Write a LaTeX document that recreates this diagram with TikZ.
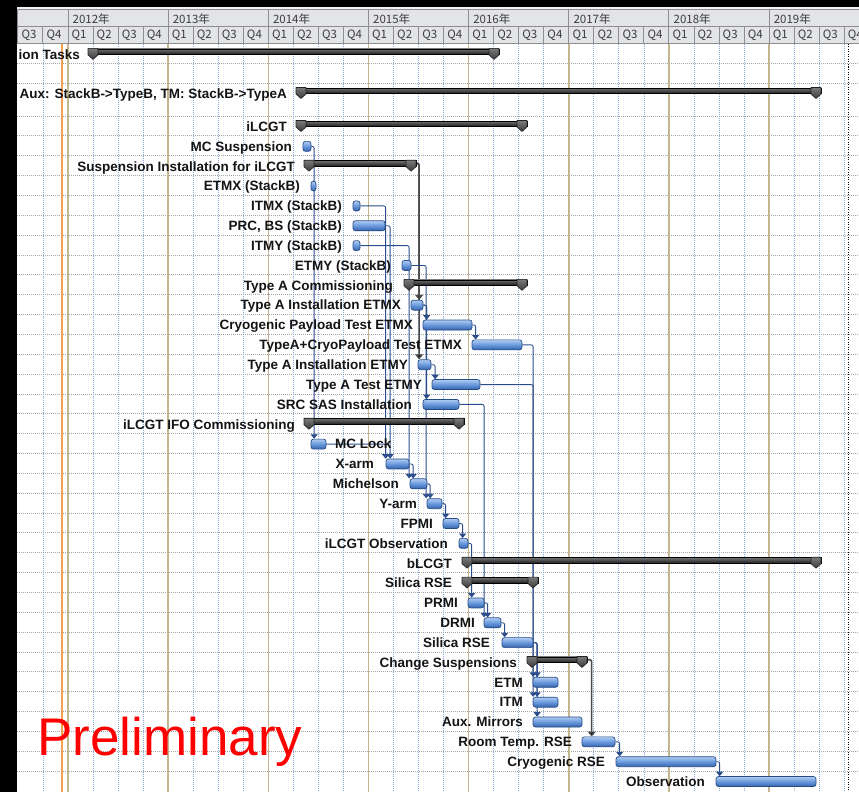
\documentclass[tikz,border=0pt]{standalone}
\usepackage{fontspec}
\setmainfont{Liberation Sans}
\newfontfamily\cjkfont{Noto Sans CJK JP}
\usetikzlibrary{arrows.meta,calc}
\definecolor{barlight}{HTML}{B0CCF2}
\definecolor{barmid}{HTML}{6898DC}
\definecolor{bardark}{HTML}{3563AC}
\definecolor{barborder}{HTML}{264C86}
\definecolor{sumlight}{HTML}{707070}
\definecolor{sumdark}{HTML}{1E1E1E}
\definecolor{caplight}{HTML}{7A7A7A}
\definecolor{capdark}{HTML}{3A3A3A}
\definecolor{capborder}{HTML}{222222}
\definecolor{lblcol}{HTML}{141414}
\definecolor{linkcol}{HTML}{2B4D8C}
\definecolor{slinkcol}{HTML}{4A4A4A}
\definecolor{rowcol}{HTML}{A4A4A4}
\definecolor{qcol}{HTML}{85A9DA}
\definecolor{ycol}{HTML}{C4B68E}
\definecolor{hdrcol}{HTML}{8E8E8E}
\definecolor{hdrbg}{HTML}{E2E4E8}
\definecolor{hdrtxtcol}{HTML}{3C3C3C}
\definecolor{todaycol}{HTML}{F5A04A}
\pgfdeclarelayer{bg}
\pgfdeclarelayer{links}
\pgfdeclarelayer{top}
\pgfsetlayers{bg,links,main,top}
\tikzset{
  taskbar/.style={draw=barborder, line width=0.7pt, rounded corners=2.5pt, top color=barlight, bottom color=bardark, middle color=barmid, inner sep=0pt, minimum height=10pt},
  sumbar/.style={draw=black, line width=0.6pt, top color=sumlight, bottom color=sumdark, inner sep=0pt, minimum height=5.5pt},
  sumcap/.style={draw=capborder, line width=0.6pt, top color=caplight, bottom color=capdark, line join=round},
  lbltxt/.style={font=\fontsize{13.5}{15}\selectfont\bfseries, text=lblcol, inner sep=0pt},
  link/.style={draw=linkcol, line width=0.9pt, rounded corners=2pt, -{Triangle[width=7pt,length=4.5pt]}},
  slink/.style={draw=slinkcol, line width=1.6pt, rounded corners=2pt, -{Triangle[width=8pt,length=5pt,fill=black]}},
  rowline/.style={draw=rowcol, line width=0.8pt, dash pattern=on 1pt off 1pt},
  qline/.style={draw=qcol, line width=0.8pt, dash pattern=on 1pt off 1pt},
  yline/.style={draw=ycol, line width=1.5pt},
  hdrline/.style={draw=hdrcol, line width=1pt},
  hdrtxt/.style={font=\cjkfont\fontsize{11.5}{13}\selectfont, text=hdrtxtcol, inner sep=0pt},
}
\newcommand\GTtask[4]{%
  \pgfmathsetmacro\gtw{#4-#3}\pgfmathsetmacro\gtx{(#3+#4)/2}\pgfmathsetmacro\gty{#2+0.5}%
  \node[taskbar, minimum width=\gtw pt] (#1) at (\gtx,\gty) {};%
}
\newcommand\GTsum[4]{%
  \pgfmathsetmacro\gtw{#4-#3}\pgfmathsetmacro\gtx{(#3+#4)/2}\pgfmathsetmacro\gty{#2-2.25}%
  \node[sumbar, minimum width=\gtw pt] (#1) at (\gtx,\gty) {};%
  \pgfmathsetmacro\gya{#2-5.5}\pgfmathsetmacro\gyb{#2+1}\pgfmathsetmacro\gyc{#2+5.5}%
  \pgfmathsetmacro\gxa{#3+10}\pgfmathsetmacro\gxm{#3+5}%
  \draw[sumcap] (#3,\gya) -- (\gxa,\gya) -- (\gxa,\gyb) -- (\gxm,\gyc) -- (#3,\gyb) -- cycle;%
  \pgfmathsetmacro\gxb{#4-10}\pgfmathsetmacro\gxn{#4-5}%
  \draw[sumcap] (\gxb,\gya) -- (#4,\gya) -- (#4,\gyb) -- (\gxn,\gyc) -- (\gxb,\gyb) -- cycle;%
}
\newcommand\GTlbl[4]{%
  \pgfmathsetmacro\gty{#3+5.3}%
  \node[lbltxt, anchor=base east] (#1) at (#2,\gty) {#4};%
}
\begin{document}
\begin{tikzpicture}[x=1pt,y=-1pt]
\useasboundingbox (0,0) rectangle (859,792);
\begin{pgfonlayer}{bg}
\fill[black] (0,0) rectangle (859,792);
\fill[white] (17,44) rectangle (859,792);
% header
\fill[hdrbg] (17,7) rectangle (859,44);
\fill[white!60!hdrbg] (17,7) rectangle (859,10);
\draw[hdrline] (17,10) -- (859,10);
\draw[hdrline] (17,27) -- (859,27);
\draw[hdrline] (17,43.5) -- (859,43.5);
\draw[hdrline] (17.5,10) -- (17.5,43.5);
\foreach \k in {0,...,7} {
  \pgfmathsetmacro\xx{68+100.16*\k}
  \pgfmathtruncatemacro\yr{2012+\k}
  \draw[hdrline] (\xx,10) -- (\xx,27);
  \node[hdrtxt, anchor=west] (yr\k) at (\xx+4.5,18.7) {\yr 年};
}
\foreach \q in {-2,...,31} {
  \pgfmathsetmacro\xx{68+25.04*\q}
  \pgfmathtruncatemacro\qn{mod(\q+8,4)+1}
  \draw[hdrline] (\xx,27) -- (\xx,43.5);
  \node[hdrtxt, anchor=west] (q\q) at (\xx+3.5,35.5) {Q\qn};
}
% grid
\foreach \yy in {63.8,83.7} \draw[rowline] (17,\yy) -- (859,\yy);
\foreach \k in {0,...,33} { \pgfmathsetmacro\yy{116+19.85*\k} \draw[rowline] (17,\yy) -- (859,\yy); }
\foreach \q in {-1,...,31} {
  \pgfmathsetmacro\xx{68+25.04*\q}
  \pgfmathtruncatemacro\m{mod(\q+8,4)}
  \ifnum\m=0 \draw[yline] (\xx,44) -- (\xx,792); \else \draw[qline] (\xx,44) -- (\xx,792); \fi
}
\draw[todaycol, line width=1.3pt] (62,44) -- (62,792);
\draw[black, line width=0.8pt, dash pattern=on 1pt off 1.5pt] (848,44) -- (848,792);
\node[font=\fontsize{53}{60}\selectfont, text=red, anchor=base west, inner sep=0pt] (prelim) at (37,755) {Preliminary};
\end{pgfonlayer}

% summary bars
\GTsum{common}{53.9}{88}{499}
\GTsum{auxsum}{93}{296}{821}
\GTsum{ilcgt}{126}{296}{527}
\GTsum{sii}{165.7}{304}{416}
\GTsum{tac}{284.8}{404}{527}
\GTsum{ifo}{423.75}{304}{464}
\GTsum{blcgt}{562.7}{462}{821}
\GTsum{srse}{582.55}{462}{538}
\GTsum{chs}{661.95}{527}{587}
% tasks
\GTtask{mcs}{145.85}{303}{311}
\GTtask{etmxb}{185.55}{311}{316}
\GTtask{itmxb}{205.4}{353}{360}
\GTtask{prcb}{225.25}{353}{385}
\GTtask{itmyb}{245.1}{353}{360}
\GTtask{etmyb}{264.95}{402}{411}
\GTtask{taie}{304.65}{411}{423}
\GTtask{cpt}{324.5}{423}{472}
\GTtask{tacpt}{344.35}{472}{522}
\GTtask{taiey}{364.2}{418}{431}
\GTtask{tate}{384.05}{432}{480}
\GTtask{src}{403.9}{423}{459}
\GTtask{mcl}{443.6}{311}{326}
\GTtask{xarm}{463.45}{386}{409}
\GTtask{mich}{483.3}{410}{427}
\GTtask{yarm}{503.15}{427}{442}
\GTtask{fpmi}{523}{443}{459}
\GTtask{obsa}{542.85}{459}{468}
\GTtask{prmi}{602.4}{468}{484}
\GTtask{drmi}{622.25}{484}{501}
\GTtask{srset}{642.1}{502}{533}
\GTtask{etm}{681.8}{533}{558}
\GTtask{itm}{701.65}{533}{558}
\GTtask{aux}{721.5}{533}{582}
\GTtask{rtrse}{741.35}{582}{615}
\GTtask{crse}{761.2}{616}{716}
\GTtask{obs}{781.05}{716}{816}

% labels
\GTlbl{lcommon}{80}{53.9}{ion Tasks}
\GTlbl{lauxsum}{287}{93}{Aux: StackB->TypeB, TM: StackB->TypeA}
\GTlbl{lilcgt}{287}{126}{iLCGT}
\GTlbl{lmcs}{292}{145.85}{MC Suspension}
\GTlbl{lsii}{295}{165.7}{Suspension Installation for iLCGT}
\GTlbl{letmxb}{300}{185.55}{ETMX (StackB)}
\GTlbl{litmxb}{342}{205.4}{ITMX (StackB)}
\GTlbl{lprcb}{342}{225.25}{PRC, BS (StackB)}
\GTlbl{litmyb}{342}{245.1}{ITMY (StackB)}
\GTlbl{letmyb}{391}{264.95}{ETMY (StackB)}
\GTlbl{ltac}{393}{284.8}{Type A Commissioning}
\GTlbl{ltaie}{401}{304.65}{Type A Installation ETMX}
\GTlbl{lcpt}{413}{324.5}{Cryogenic Payload Test ETMX}
\GTlbl{ltacpt}{462}{344.35}{TypeA+CryoPayload Test ETMX}
\GTlbl{ltaiey}{408}{364.2}{Type A Installation ETMY}
\GTlbl{ltate}{422}{384.05}{Type A Test ETMY}
\GTlbl{lsrc}{412}{403.9}{SRC SAS Installation}
\GTlbl{lifo}{295}{423.75}{iLCGT IFO Commissioning}
\node[lbltxt, anchor=base west] (lmcl) at (335,448.9) {MC Lock};
\GTlbl{lxarm}{374}{463.45}{X-arm}
\GTlbl{lmich}{399}{483.3}{Michelson}
\GTlbl{lyarm}{417}{503.15}{Y-arm}
\GTlbl{lfpmi}{433}{523}{FPMI}
\GTlbl{lobsa}{448}{542.85}{iLCGT Observation}
\GTlbl{lblcgt}{452}{562.7}{bLCGT}
\GTlbl{lsrse}{452}{582.55}{Silica RSE}
\GTlbl{lprmi}{458}{602.4}{PRMI}
\GTlbl{ldrmi}{475}{622.25}{DRMI}
\GTlbl{lsrset}{490}{642.1}{Silica RSE}
\GTlbl{lchs}{517}{661.95}{Change Suspensions}
\GTlbl{letm}{523}{681.8}{ETM}
\GTlbl{litm}{523}{701.65}{ITM}
\GTlbl{laux}{523}{721.5}{Aux. Mirrors}
\GTlbl{lrtrse}{572}{741.35}{Room Temp. RSE}
\GTlbl{lcrse}{605}{761.2}{Cryogenic RSE}
\GTlbl{lobs}{705}{781.05}{Observation}

% connectors
\begin{pgfonlayer}{links}
\draw[link] (mcs.east) -| ([xshift=3.5pt]mcl.north west);
\draw[slink] (sii.east) -| ([xshift=8.5pt]taie.north west);
\draw[slink] (sii.east) -| ([xshift=1.5pt]taiey.north west);
\draw[link] (itmxb.east) -| ([xshift=0pt]xarm.north west);
\draw[link] (mcl.east) -| ([xshift=0pt]xarm.north west);
\draw[link] (prcb.east) -| ([xshift=4.5pt]xarm.north west);
\draw[link] (itmyb.east) -| ([xshift=-0.5pt]mich.north west);
\draw[link] (xarm.east) -| ([xshift=3.5pt]mich.north west);
\draw[link] (etmyb.east) -| ([xshift=-0.5pt]yarm.north west);
\draw[link] (mich.east) -| ([xshift=3.5pt]yarm.north west);
\draw[link] (taie.east) -| ([xshift=4pt]cpt.north west);
\draw[link] (taie.east) -| ([xshift=4pt]src.north west);
\draw[link] (cpt.east) -| ([xshift=4pt]tacpt.north west);
\draw[link] (taiey.east) -| ([xshift=3.5pt]tate.north west);
\draw[link] (yarm.east) -| ([xshift=3pt]fpmi.north west);
\draw[link] (fpmi.east) -| ([xshift=4pt]obsa.north west);
\draw[link] (obsa.east) -| ([xshift=4pt]prmi.north west);
\draw[link] (src.east) -| ([xshift=0.5pt]drmi.north west);
\draw[link] (prmi.east) -| ([xshift=4pt]drmi.north west);
\draw[link] (drmi.east) -| ([xshift=3pt]srset.north west);
\draw[link] (tacpt.east) -| ([xshift=0.5pt]etm.north west);
\draw[link] (tate.east) -| ([xshift=0.5pt]itm.north west);
\draw[link] (srset.east) -| ([xshift=4.5pt]etm.north west);
\draw[link] (srset.east) -| ([xshift=4.5pt]itm.north west);
\draw[link] (srset.east) -| ([xshift=4.5pt]aux.north west);
\draw[slink] (chs.east) -| ([xshift=10pt]rtrse.north west);
\draw[link] (rtrse.east) -| ([xshift=4pt]crse.north west);
\draw[link] (crse.east) -| ([xshift=4pt]obs.north west);
\end{pgfonlayer}

\begin{pgfonlayer}{top}
\fill[black] (0,0) rectangle (17,792);
\fill[black] (0,0) rectangle (859,7);
\end{pgfonlayer}
\end{tikzpicture}
\end{document}
